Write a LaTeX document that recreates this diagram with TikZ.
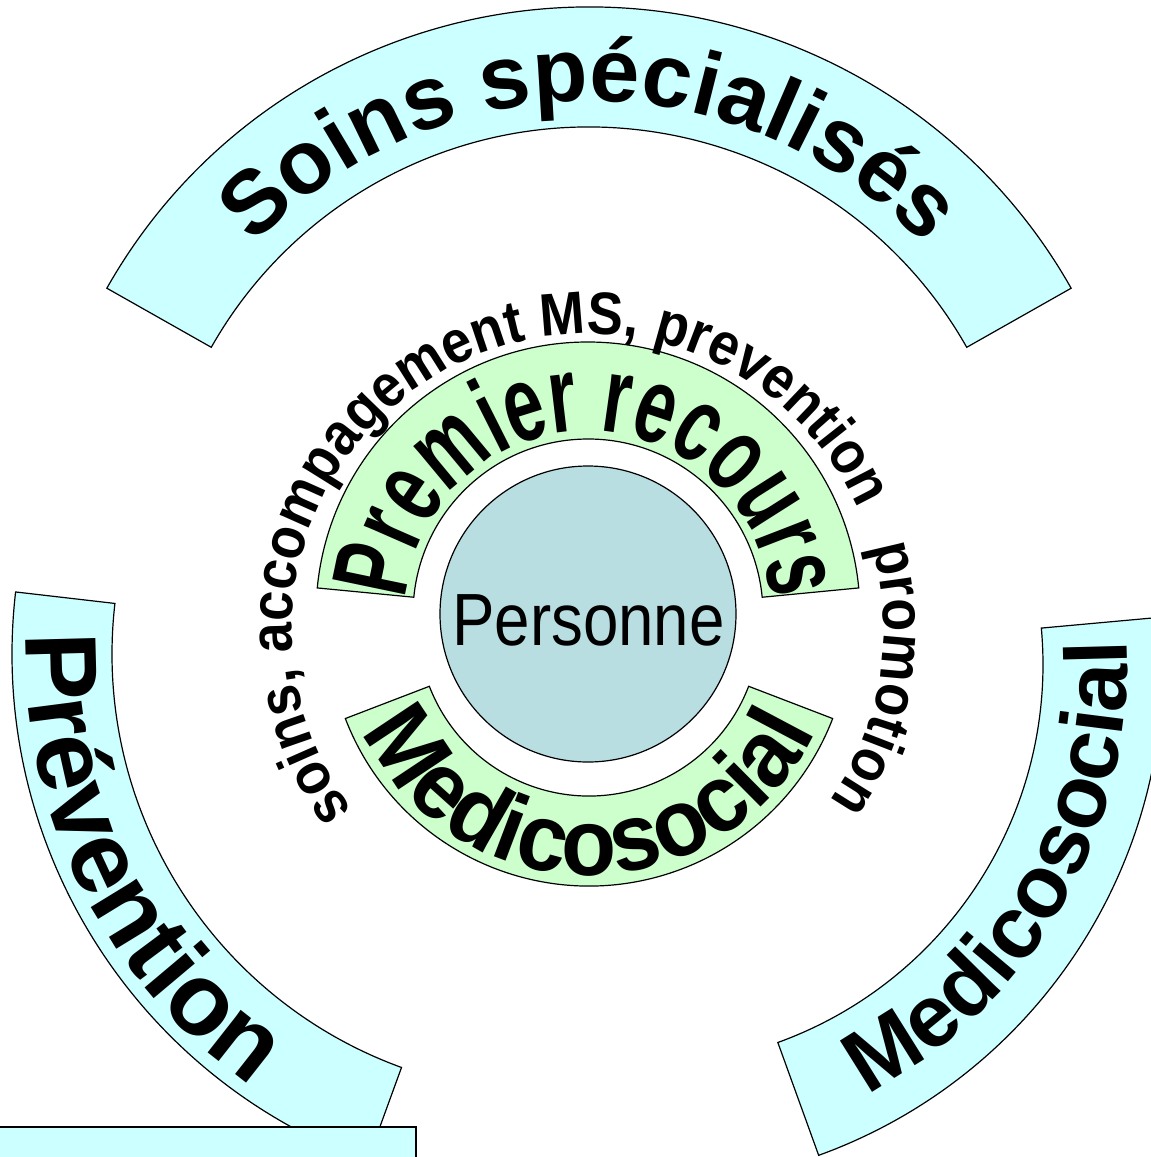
\documentclass[tikz,border=0pt]{standalone}
\usepackage{fontspec}
\setmainfont{Liberation Sans}
\usetikzlibrary{decorations.text,calc}
\newfontfamily\fPersonne[FakeStretch=0.86]{Liberation Sans}
\newfontfamily\fBold{Liberation Sans Bold}
\newfontfamily\fBoldPR[FakeStretch=0.66]{Liberation Sans Bold}
\newfontfamily\fBoldMG[FakeStretch=0.95]{Liberation Sans Bold}
\newfontfamily\fBoldOUT[FakeStretch=0.9]{Liberation Sans Bold}
\newcommand\ftPR{\fBoldPR\fontsize{108}{110}\selectfont}
\newcommand\ftSS{\fBold\fontsize{90}{91}\selectfont}
\newcommand\ftPV{\fBold\fontsize{102}{103}\selectfont}
\newcommand\ftMB{\fBold\fontsize{88}{89}\selectfont}
\newcommand\ftMG{\fBoldMG\fontsize{95}{96}\selectfont}
\newcommand\ftOUT{\fBoldOUT\fontsize{60}{61}\selectfont}
\definecolor{cyanfill}{HTML}{CCFFFF}
\definecolor{greenfill}{HTML}{CCFFCC}
\definecolor{persfill}{RGB}{185,222,226}
\begin{document}
\begin{tikzpicture}[x=1pt,y=1pt,
  bluearc/.style={fill=cyanfill, draw=black, line width=1.2pt},
  greenarc/.style={fill=greenfill, draw=black, line width=1.2pt},
  boxst/.style={fill=cyanfill, draw=black, line width=2pt}]
\useasboundingbox (0,-1157) rectangle (1151,0);
\clip (0,-1157) rectangle (1151,0);
\coordinate (cS) at (589,-561);
\coordinate (cPv) at (552,-654);
\coordinate (cMB) at (641,-664.5);
\coordinate (cPR) at (588,-614);
\coordinate (cMG) at (589,-625);
\coordinate (cT) at (588,-630);
% blue arcs
\draw[bluearc] ($(cS)+(150.5:554)$) arc[start angle=150.5, end angle=29.5, radius=554]
  -- ($(cS)+(29.5:434)$) arc[start angle=29.5, end angle=150.5, radius=434] -- cycle;
\draw[bluearc] ($(cPv)+(173.4:540)$) arc[start angle=173.4, end angle=250, radius=540]
  -- ($(cPv)+(250:440)$) arc[start angle=250, end angle=173.4, radius=440] -- cycle;
\draw[bluearc] ($(cMB)+(-70.1:522)$) arc[start angle=-70.1, end angle=5.2, radius=522]
  -- ($(cMB)+(5.2:402)$) arc[start angle=5.2, end angle=-70.1, radius=402] -- cycle;
% box
\draw[boxst] (-5,-1127) rectangle (416,-1180);
% green arcs
\draw[greenarc] ($(cPR)+(174.5:272)$) arc[start angle=174.5, end angle=5.5, radius=272]
  -- ($(cPR)+(5.5:175)$) arc[start angle=5.5, end angle=174.5, radius=175] -- cycle;
\draw[greenarc] ($(cMG)+(-159:261)$) arc[start angle=-159, end angle=-21, radius=261]
  -- ($(cMG)+(-21:171)$) arc[start angle=-21, end angle=-159, radius=171] -- cycle;
% person
\node[draw, fill=persfill, circle, minimum size=296pt, inner sep=0pt, line width=1.2pt] (pers) at (588,-614) {};
\node[anchor=base, inner sep=0pt] (perslabel) at (588.5,-645) {\fPersonne\fontsize{74}{76}\selectfont Personne};
% curved texts
\path[decorate, decoration={text along path, text align=center, text={|\ftPR|Premier recours}}]
  ($(cPR)+(180:183)$) arc[start angle=180, end angle=0, radius=183];
\path[decorate, decoration={text along path, text align=center, text={|\ftMG|Medicosocial}}]
  ($(cMG)+(-165:250)$) arc[start angle=-165, end angle=-15, radius=250];
\path[decorate, decoration={text along path, text align=center, text={|\ftSS|Soins spécialisés}}]
  ($(cS)+(160:460)$) arc[start angle=160, end angle=20, radius=460];
\path[decorate, decoration={text along path, text align=center, text={|\ftPV|Prévention}}]
  ($(cPv)+(166.5:526)$) arc[start angle=166.5, end angle=246.5, radius=526];
\path[decorate, decoration={text along path, text align=center, text={|\ftMB|Medicosocial}}]
  ($(cMB)+(-69.7:486)$) arc[start angle=-69.7, end angle=10.3, radius=486];
\path[decorate, decoration={text along path, text align=center, text={|\ftOUT|soins, accompagement MS, prevention}}]
  ($(cT)+(225:296)$) arc[start angle=225, end angle=16.6, radius=296];
\path[decorate, decoration={text along path, text align=center, text={|\ftOUT|promotion}}]
  ($(cT)+(20:296)$) arc[start angle=20, end angle=-39, radius=296];
\end{tikzpicture}
\end{document}
